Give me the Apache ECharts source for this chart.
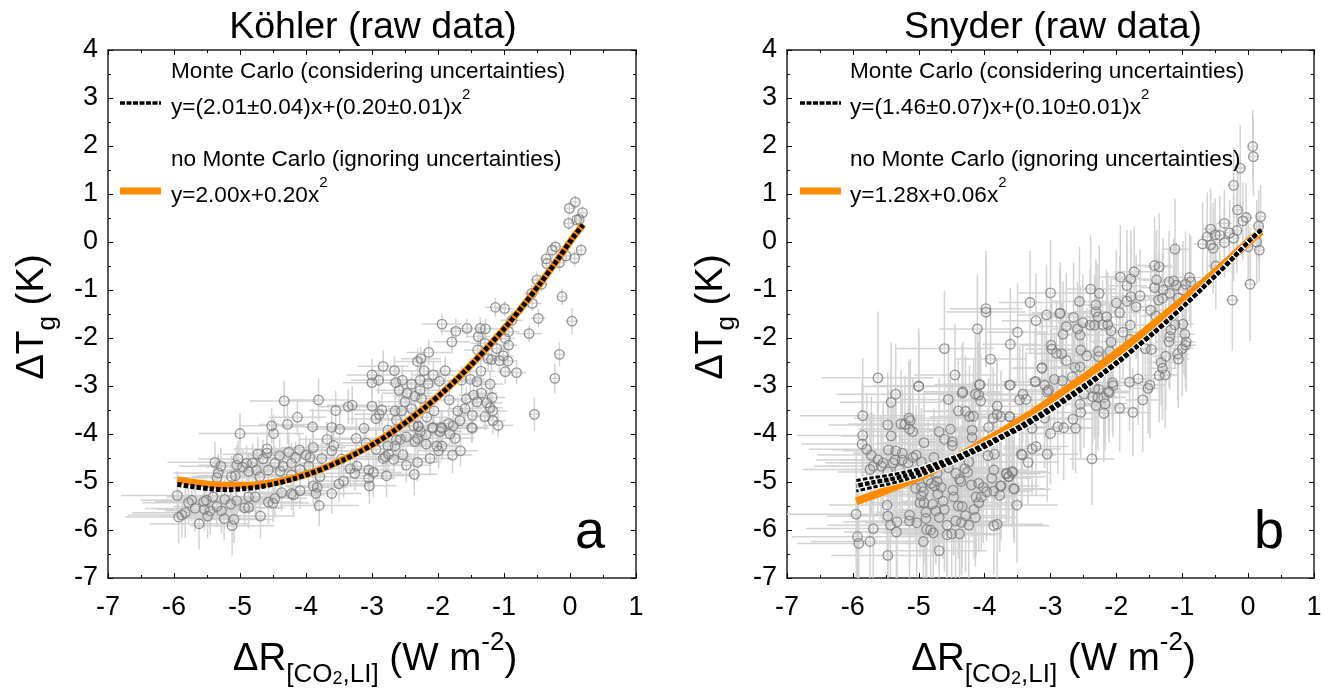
<!DOCTYPE html>
<html>
<head>
<meta charset="utf-8">
<title>Köhler and Snyder raw data</title>
<script src="https://cdn.jsdelivr.net/npm/echarts@6/dist/echarts.min.js"></script>
<style>
  html, body { margin: 0; padding: 0; background: #fff; }
  #main { width: 1335px; height: 688px; }
</style>
</head>
<body>
<div id="main"></div>
<script>
// x, y, x error, y error
const koehlerPoints = [
  [0.08,0.83,0.05,0.14],[-0.01,0.70,0.06,0.15],[0.19,0.61,0.05,0.13],[0.14,0.47,0.06,0.16],[0.10,0.46,0.05,0.12],[-0.02,0.39,0.07,0.14],
  [0.17,-0.17,0.06,0.15],[0.07,-0.34,0.07,0.17],[-0.22,-0.10,0.08,0.13],[-0.27,-0.17,0.07,0.16],[-0.36,-0.35,0.09,0.15],[-0.35,-0.45,0.08,0.14],
  [-0.16,-0.43,0.07,0.18],[-0.06,-0.29,0.08,0.15],[-0.50,-0.79,0.10,0.17],[-0.43,-0.88,0.09,0.16],[-0.58,-1.07,0.12,0.18],[-0.57,-1.28,0.14,0.16],
  [-0.12,-1.14,0.06,0.17],[-1.13,-1.36,0.16,0.20],[-0.99,-1.39,0.14,0.16],[-0.48,-1.59,0.11,0.20],[0.03,-1.65,0.10,0.27],[-0.88,-1.63,0.17,0.19],
  [-0.62,-1.91,0.20,0.18],[-1.94,-1.71,0.30,0.22],[-1.73,-1.86,0.24,0.26],[-1.56,-1.80,0.26,0.20],[-1.36,-1.80,0.22,0.24],[-1.28,-1.81,0.20,0.21],
  [-1.79,-2.08,0.28,0.25],[-1.39,-1.97,0.18,0.22],[-1.29,-2.11,0.21,0.26],[-0.93,-1.87,0.17,0.20],[-0.98,-2.01,0.15,0.24],[-0.93,-2.15,0.13,0.22],
  [-1.11,-2.22,0.18,0.21],[-1.40,-2.25,0.20,0.25],[-1.01,-2.37,0.16,0.23],[-0.16,-2.34,0.07,0.25],[-2.14,-2.30,0.34,0.27],[-2.26,-2.43,0.30,0.24],
  [-2.31,-2.49,0.36,0.28],[-2.83,-2.59,0.38,0.33],[-2.66,-2.68,0.33,0.30],[-1.24,-2.43,0.18,0.25],[-1.19,-2.45,0.20,0.22],[-1.07,-2.47,0.16,0.27],
  [-0.94,-2.48,0.15,0.24],[-0.98,-2.70,0.13,0.26],[-0.81,-2.72,0.14,0.23],[-1.35,-2.69,0.22,0.27],[-2.21,-2.68,0.31,0.26],[-1.89,-2.68,0.29,0.30],
  [-2.07,-2.77,0.32,0.27],[-0.23,-2.84,0.06,0.31],[-1.51,-2.86,0.22,0.25],[-1.64,-2.88,0.27,0.29],[-1.41,-2.91,0.23,0.26],[-1.21,-2.96,0.20,0.28],
  [-1.98,-2.90,0.30,0.26],[-2.15,-2.95,0.28,0.32],[-2.27,-2.88,0.33,0.28],[-2.54,-2.88,0.40,0.30],[-2.40,-2.96,0.35,0.27],[-2.64,-2.93,0.37,0.33],
  [-2.90,-2.88,0.42,0.29],[-3.00,-2.77,0.38,0.34],[-3.00,-2.93,0.44,0.31],[-2.59,-3.09,0.36,0.30],[-2.27,-3.09,0.31,0.35],[-2.47,-3.15,0.38,0.28],
  [-2.35,-3.21,0.33,0.31],[-2.25,-3.26,0.30,0.29],[-1.83,-3.29,0.27,0.33],[-1.57,-3.27,0.25,0.27],[-1.46,-3.19,0.22,0.30],[-1.34,-3.15,0.24,0.26],
  [-1.41,-3.33,0.21,0.29],[-1.26,-3.35,0.23,0.27],[-1.18,-3.24,0.20,0.25],[-1.21,-3.45,0.19,0.28],[-1.17,-3.52,0.22,0.26],[-1.59,-3.47,0.26,0.31],
  [-1.70,-3.52,0.28,0.27],[-1.48,-3.61,0.24,0.30],[-1.29,-3.64,0.21,0.28],[-1.67,-3.72,0.27,0.26],[-1.17,-3.72,0.20,0.29],[-1.09,-3.82,0.23,0.25],
  [-0.54,-3.59,0.08,0.35],[-1.84,-3.78,0.29,0.31],[-1.77,-3.83,0.26,0.28],[-1.49,-3.86,0.25,0.32],[-2.40,-3.47,0.36,0.30],[-2.50,-3.33,0.38,0.33],
  [-2.65,-3.52,0.35,0.29],[-2.55,-3.52,0.40,0.32],[-2.85,-3.50,0.43,0.34],[-2.89,-3.59,0.38,0.30],[-2.94,-3.68,0.41,0.36],[-3.00,-3.42,0.45,0.31],
  [-2.63,-3.71,0.37,0.33],[-2.17,-3.65,0.33,0.29],[-2.06,-3.52,0.31,0.34],[-2.37,-3.83,0.34,0.30],[-2.30,-3.83,0.39,0.33],[-1.95,-3.86,0.30,0.31],
  [-2.08,-3.86,0.32,0.28],
  [-4.33,-3.31,0.52,0.42],[-3.81,-3.29,0.47,0.45],[-4.13,-3.65,0.44,0.38],[-3.55,-3.51,0.40,0.41],[-3.36,-3.43,0.46,0.36],[-3.30,-3.40,0.38,0.40],
  [-4.52,-3.83,0.50,0.37],[-4.28,-3.80,0.43,0.41],[-3.90,-3.85,0.48,0.38],[-3.61,-3.86,0.42,0.44],[-3.49,-3.90,0.45,0.35],[-3.12,-3.88,0.41,0.38],
  [-5.00,-3.99,0.63,0.42],[-4.49,-3.99,0.46,0.39],[-3.68,-4.11,0.43,0.36],[-3.24,-4.09,0.47,0.40],[-3.58,-4.24,0.40,0.34],[-3.89,-4.28,0.49,0.37],
  [-4.59,-4.31,0.51,0.40],[-4.10,-4.33,0.44,0.35],[-3.61,-4.35,0.46,0.38],[-4.26,-4.38,0.42,0.42],[-4.73,-4.42,0.53,0.36],[-4.59,-4.40,0.47,0.39],
  [-4.40,-4.45,0.49,0.37],[-4.00,-4.44,0.45,0.41],[-3.94,-4.49,0.41,0.36],[-4.16,-4.49,0.47,0.34],[-3.76,-4.51,0.44,0.39],[-3.46,-4.52,0.39,0.35],
  [-4.65,-4.52,0.55,0.40],[-5.03,-4.52,0.60,0.38],[-5.38,-4.59,0.72,0.43],[-5.29,-4.67,0.64,0.39],[-5.05,-4.65,0.58,0.41],[-4.90,-4.61,0.52,0.37],
  [-4.81,-4.60,0.57,0.40],[-4.47,-4.61,0.48,0.36],[-4.35,-4.67,0.50,0.38],[-4.22,-4.61,0.46,0.43],[-3.96,-4.67,0.44,0.35],[-4.09,-4.74,0.49,0.39],
  [-4.96,-4.69,0.56,0.37],[-4.75,-4.75,0.53,0.42],[-4.57,-4.75,0.47,0.36],[-5.33,-4.81,0.68,0.40],[-5.13,-4.89,0.61,0.44],[-5.35,-4.91,0.66,0.38],
  [-5.07,-4.87,0.59,0.41],[-4.87,-4.78,0.54,0.36],[-4.70,-4.89,0.52,0.39],[-4.39,-4.78,0.48,0.42],[-4.22,-4.85,0.45,0.37],[-3.79,-4.89,0.50,0.35],
  [-3.33,-4.72,0.42,0.38],[-3.23,-4.67,0.38,0.34],[-3.26,-4.82,0.44,0.36],[-3.05,-4.75,0.40,0.39],[-3.43,-4.98,0.43,0.35],[-3.50,-5.04,0.47,0.37],
  [-3.05,-4.92,0.39,0.34],[-3.04,-5.08,0.41,0.38],[-3.83,-5.11,0.46,0.36],[-3.89,-5.08,0.43,0.40],[-3.85,-5.24,0.48,0.37],[-3.61,-5.24,0.45,0.42],
  [-4.09,-5.18,0.44,0.38],[-4.22,-5.24,0.49,0.35],[-4.19,-5.27,0.47,0.43],[-4.37,-5.22,0.51,0.39],[-4.47,-5.34,0.48,0.41],[-4.57,-5.42,0.53,0.46],
  [-4.50,-5.44,0.55,0.40],[-3.80,-5.49,0.60,0.43],[-4.77,-5.31,0.52,0.44],[-4.87,-5.31,0.56,0.38],[-5.05,-5.39,0.62,0.42],[-5.14,-5.46,0.59,0.47],
  [-5.23,-5.36,0.65,0.41],[-4.93,-5.54,0.58,0.39],[-4.87,-5.53,0.54,0.44],[-5.41,-5.31,0.70,0.43],[-5.55,-5.41,0.74,0.46],[-5.51,-5.38,0.68,0.40],
  [-5.68,-5.55,0.76,0.48],[-5.78,-5.43,0.70,0.42],[-5.73,-5.38,0.78,0.45],[-5.95,-5.28,0.85,0.50],[-5.35,-5.51,0.66,0.43],[-5.28,-5.60,0.62,0.47],
  [-5.54,-5.57,0.72,0.44],[-5.45,-5.60,0.69,0.50],[-5.49,-5.71,0.73,0.46],[-5.83,-5.64,0.80,0.52],[-5.88,-5.69,0.82,0.47],[-5.93,-5.73,0.81,0.55],
  [-5.24,-5.76,0.63,0.45],[-5.09,-5.78,0.60,0.49],[-4.69,-5.71,0.52,0.47],[-5.62,-5.87,0.75,0.53],[-5.12,-5.91,0.64,0.62],
  [-3.09,-4.19,0.42,0.36],[-2.94,-4.32,0.38,0.41],[-2.76,-3.92,0.40,0.33],[-2.76,-4.25,0.36,0.38],[-2.65,-4.25,0.39,0.34],[-2.63,-4.12,0.41,0.37],
  [-2.57,-4.11,0.35,0.33],[-2.48,-4.06,0.38,0.39],[-2.35,-4.16,0.34,0.36],[-2.30,-3.85,0.37,0.32],[-2.27,-3.95,0.33,0.38],[-2.18,-4.02,0.36,0.34],
  [-2.31,-4.09,0.32,0.31],[-2.18,-4.21,0.35,0.37],[-2.08,-3.88,0.30,0.33],[-1.97,-3.95,0.33,0.30],[-1.94,-3.88,0.28,0.35],[-1.82,-4.00,0.31,0.32],
  [-1.74,-4.09,0.29,0.36],[-2.02,-4.25,0.34,0.34],[-1.94,-4.25,0.30,0.30],[-1.99,-4.35,0.32,0.37],[-1.66,-4.35,0.27,0.33],[-1.78,-4.44,0.30,0.38],
  [-2.12,-4.51,0.33,0.34],[-2.31,-4.59,0.36,0.40],[-2.48,-4.65,0.38,0.36],[-2.36,-4.84,0.35,0.43],[-2.78,-4.87,0.42,0.45],[-2.53,-4.43,0.37,0.35],
  [-2.67,-4.53,0.40,0.39],[-2.75,-4.42,0.36,0.34],[-2.80,-4.47,0.41,0.37],[-2.83,-4.51,0.38,0.41],[-2.98,-4.80,0.43,0.52],[-1.48,-3.88,0.25,0.30]
];
const snyderPoints = [
  [-5.00,-3.01,0.85,1.10],[-5.35,-3.17,0.90,1.05],[-5.42,-3.34,0.78,1.25],[-5.85,-3.62,0.95,1.20],[-5.85,-4.03,1.00,1.05],[-5.86,-4.21,0.92,1.30],
  [-5.79,-4.32,0.88,1.15],[-5.72,-4.44,0.82,1.22],[-5.47,-3.81,0.90,1.08],[-5.42,-4.04,0.74,1.35],[-5.27,-3.79,0.80,1.12],[-5.21,-3.80,0.76,1.02],
  [-5.15,-3.67,0.83,1.18],[-5.13,-3.72,0.70,1.28],[-5.14,-3.90,0.78,1.06],[-5.09,-3.95,0.72,1.14],[-4.92,-4.18,0.68,0.98],[-5.46,-4.33,0.86,1.24],
  [-5.35,-4.35,0.80,1.10],[-5.25,-4.40,0.74,1.32],[-5.04,-4.44,0.70,1.04],[-5.09,-4.49,0.76,1.16],[-5.36,-4.54,0.84,1.08],[-5.39,-4.60,0.78,1.26],
  [-5.25,-4.54,0.72,1.00],[-5.16,-4.60,0.80,1.20],[-4.96,-4.58,0.66,1.12],[-4.77,-4.49,0.64,1.02],[-5.62,-4.54,0.94,1.16],[-5.54,-4.60,0.88,1.28],
  [-5.57,-4.67,0.82,1.06],[-5.74,-4.74,1.02,1.18],[-5.69,-4.67,0.90,1.10],[-5.47,-4.79,0.76,1.30],[-5.29,-4.74,0.84,1.04],[-4.69,-3.95,0.70,1.14],
  [-4.52,-3.90,0.62,1.06],[-4.61,-4.11,0.66,0.96],[-4.49,-4.16,0.58,1.22],[-4.49,-4.24,0.64,1.10],[-4.55,-3.28,0.72,1.16],[-4.34,-3.15,0.60,1.02],
  [-4.14,-3.17,0.66,1.24],[-4.09,-3.19,0.58,1.10],[-4.06,-3.31,0.62,0.98],[-4.08,-2.97,0.68,1.12],[-4.40,-3.52,0.56,1.04],[-4.29,-3.53,0.64,1.18],
  [-4.23,-3.64,0.60,1.08],[-4.17,-3.63,0.54,1.20],[-3.81,-3.42,0.58,1.00],[-3.81,-3.59,0.52,1.14],[-3.87,-3.67,0.62,1.06],[-3.75,-3.64,0.56,0.96],
  [-3.62,-3.64,0.50,1.10],[-3.94,-3.86,0.60,1.02],[-4.19,-3.92,0.66,0.94],[-4.19,-4.07,0.54,1.16],[-3.61,-2.98,0.56,1.08],[-3.42,-3.17,0.48,1.00],
  [-3.47,-3.29,0.52,1.12],[-3.37,-3.28,0.46,0.98],[-3.23,-2.91,0.50,1.18],[-3.05,-3.12,0.44,1.04],[-3.28,-3.88,0.48,0.92],[-3.00,-3.99,0.46,1.06],
  [-3.22,-4.26,0.50,1.02],[-3.28,-4.31,0.44,0.96],[-3.43,-4.44,0.52,1.08],[-3.34,-4.59,0.46,0.90],[-3.05,-4.42,0.48,1.00],[-3.85,-4.42,0.56,1.10],
  [-3.95,-4.45,0.62,0.98],[-4.24,-4.58,0.60,1.14],[-4.30,-4.72,0.66,1.04],[-4.26,-4.80,0.58,1.20],[-3.86,-4.75,0.54,1.06],[-3.89,-4.92,0.60,0.96],
  [-4.55,-4.70,0.70,1.12],[-4.44,-4.82,0.64,1.28],[-4.38,-4.94,0.62,1.02],[-4.36,-4.99,0.68,1.16],[-4.72,-4.82,0.66,1.08],[-4.86,-4.96,0.72,1.22],
  [-4.81,-5.03,0.70,1.04],[-4.76,-5.08,0.64,1.30],[-4.72,-4.99,0.74,1.10],[-4.66,-5.11,0.68,1.18],[-4.71,-5.25,0.62,1.06],[-4.96,-5.11,0.76,1.26],
  [-5.05,-5.13,0.80,1.12],[-4.93,-5.20,0.70,1.34],[-4.96,-5.29,0.74,1.08],[-4.63,-5.40,0.64,1.20],[-4.79,-5.46,0.72,1.04],[-4.92,-5.43,0.68,1.28],
  [-4.98,-5.43,0.78,1.14],[-4.48,-5.17,0.60,1.06],[-4.47,-5.31,0.66,1.22],[-4.20,-5.06,0.58,1.10],[-4.09,-5.03,0.62,0.98],[-4.02,-5.11,0.56,1.16],
  [-3.97,-5.20,0.64,1.04],[-4.13,-5.31,0.60,1.24],[-4.05,-5.31,0.54,1.10],[-4.09,-5.43,0.62,1.02],[-3.77,-5.28,0.70,1.18],[-3.76,-5.08,0.58,1.08],
  [-3.86,-5.19,0.60,0.96],[-3.55,-5.15,0.56,1.12],[-3.67,-4.83,0.52,1.02],[-3.58,-4.80,0.58,1.14],[-3.63,-4.89,0.50,0.94],[-3.51,-5.48,0.62,1.20],
  [-4.40,-5.50,0.64,1.10],[-4.34,-5.51,0.58,1.26],[-4.16,-5.57,0.66,1.04],[-4.61,-5.57,0.70,1.30],[-4.74,-5.60,0.64,1.12],[-4.89,-5.63,0.76,1.22],
  [-5.14,-5.69,0.82,1.06],[-5.14,-5.81,0.74,1.32],[-5.03,-5.85,0.78,1.14],[-4.89,-5.76,0.72,1.24],[-4.69,-5.74,0.66,1.08],[-4.44,-5.81,0.62,1.28],
  [-4.35,-5.84,0.68,1.10],[-4.29,-5.70,0.60,1.18],[-4.14,-5.74,0.64,1.02],[-4.24,-5.90,0.86,1.26],[-5.48,-5.48,0.88,1.16],[-5.95,-5.67,1.05,1.30],
  [-5.47,-5.71,0.92,1.12],[-5.33,-5.83,0.82,1.22],[-5.43,-5.90,0.96,1.08],[-5.69,-5.97,1.02,1.26],[-5.34,-6.04,0.80,1.14],[-4.88,-5.99,0.74,1.34],
  [-4.82,-6.00,0.70,1.10],[-4.78,-6.06,0.76,1.24],[-4.57,-5.90,0.66,1.06],[-4.57,-6.10,0.72,1.20],[-4.50,-6.08,0.68,1.30],[-4.38,-6.08,0.64,1.12],
  [-3.86,-5.91,0.84,1.02],[-3.81,-5.88,0.70,1.16],[-5.93,-6.14,1.00,1.20],[-5.91,-6.28,0.94,1.34],[-5.74,-6.24,0.90,1.10],[-4.93,-6.24,0.78,1.28],
  [-4.69,-6.43,0.72,1.16],[-5.47,-6.53,0.86,1.30],
  [-3.98,-1.39,0.55,1.20],[-3.98,-1.46,0.60,1.15],[-3.31,-1.26,0.48,1.07],[-3.00,-1.06,0.50,1.10],[-3.06,-1.52,0.44,1.05],[-3.22,-1.64,0.52,0.98],
  [-4.11,-1.81,0.58,1.12],[-3.50,-1.88,0.46,1.02],[-3.61,-2.13,0.42,1.18],[-4.61,-2.22,0.75,1.20],[-2.99,-2.15,0.46,0.96],[-2.98,-2.23,0.40,1.04],
  [-2.91,-2.32,0.44,1.10],[-3.91,-2.44,0.54,1.00],[-3.13,-2.62,0.42,1.14],[-4.45,-2.77,0.62,1.06],[-5.62,-2.83,0.85,1.38],[-2.94,-2.86,0.40,0.98],
  [-3.23,-2.91,0.46,1.08],[-4.07,-2.97,0.56,1.16],[-3.62,-2.98,0.50,1.02],[-5.00,-3.00,0.72,1.20],[-3.09,-2.98,0.44,1.12],[-2.86,-1.49,0.42,0.94],
  [-4.33,-3.12,0.60,1.04],
  [-2.36,-3.22,0.36,1.00],[-2.28,-3.24,0.32,1.10],[-2.19,-3.24,0.34,0.94],[-2.11,-3.14,0.30,1.04],[-2.17,-3.37,0.33,0.98],[-2.31,-3.41,0.35,1.12],
  [-1.95,-3.46,0.31,0.90],[-1.60,-3.29,0.26,1.08],[-1.75,-3.55,0.28,0.92],[-2.19,-3.57,0.32,1.02],[-2.54,-3.55,0.38,0.96],[-2.66,-3.69,0.40,1.06],
  [-2.62,-3.88,0.36,0.94],[-2.80,-3.87,0.42,1.10],[-2.89,-3.85,0.38,0.98],[-3.09,-3.67,0.44,1.04],[-3.62,-3.64,0.52,0.92],[-3.44,-4.42,0.50,1.00],
  [-2.37,-4.52,0.34,0.96],[-3.58,-4.78,0.54,1.10],[-3.67,-4.82,0.50,0.98],[-3.64,-4.89,0.56,1.06],[-3.56,-5.14,0.48,1.02],[-3.75,-5.08,0.52,1.14],
  [0.07,1.99,0.06,0.76],[0.08,1.78,0.08,0.82],[-0.12,1.54,0.09,0.90],[-0.22,1.18,0.07,0.78],[-0.16,0.67,0.08,0.86],[-0.03,0.51,0.10,0.72],
  [-0.08,0.44,0.07,0.80],[0.19,0.53,0.06,0.66],[0.16,0.33,0.08,0.74],[-0.17,0.24,0.09,0.88],[-0.36,0.39,0.11,0.70],[-0.57,0.27,0.12,0.84],
  [-0.62,0.11,0.10,0.92],[-0.50,0.15,0.13,0.76],[-0.43,0.14,0.09,0.82],[-0.28,0.19,0.08,0.68],[-0.22,0.08,0.10,0.90],[-0.36,-0.01,0.11,0.74],
  [-0.69,-0.04,0.14,0.86],[-0.57,-0.06,0.12,0.78],[-0.53,-0.13,0.10,0.94],[-1.11,-0.15,0.20,1.05],[0.00,-0.10,0.07,0.72],[0.13,0.00,0.06,0.88],
  [0.17,-0.17,0.08,0.66],[0.03,-0.88,0.09,1.18],[-0.24,-1.21,0.10,1.05],[-0.49,-0.50,0.13,0.90],[-1.42,-0.49,0.26,1.00],[-1.35,-0.52,0.22,1.12],
  [-1.73,-0.62,0.30,0.94],[-1.94,-0.73,0.32,1.08],[-1.78,-0.77,0.28,1.02],[-1.84,-0.91,0.30,1.16],[-0.89,-0.74,0.16,0.92],[-1.39,-0.79,0.24,1.04],
  [-1.13,-0.81,0.20,0.88],[-1.20,-0.83,0.18,1.06],[-0.87,-0.83,0.14,0.96],[-0.95,-0.88,0.16,1.10],[-1.42,-0.95,0.22,0.98],[-1.29,-1.00,0.20,1.08],
  [-1.19,-1.07,0.18,0.94],[-0.99,-1.00,0.15,1.02],[-1.09,-0.90,0.17,0.90],[-2.39,-0.98,0.38,1.12],[-2.26,-1.07,0.34,1.00],[-2.56,-1.24,0.40,1.14],
  [-1.64,-1.12,0.28,0.96],[-1.78,-1.14,0.30,1.06],[-1.84,-1.23,0.26,1.14],[-1.36,-1.21,0.24,0.98],[-1.30,-1.17,0.22,0.92],[-1.06,-1.17,0.16,1.04],
  [-2.00,-1.27,0.32,1.10],[-2.31,-1.31,0.36,0.96],[-1.70,-1.35,0.28,1.08],[-1.48,-1.42,0.24,0.94],[-2.31,-1.45,0.34,1.04],[-1.95,-1.47,0.30,1.18],
  [-2.85,-1.48,0.44,1.06],[-2.65,-1.57,0.40,1.14],[-2.15,-1.56,0.32,0.98],[-2.28,-1.56,0.36,1.10],[-2.51,-1.68,0.38,1.00],[-2.40,-1.73,0.42,1.16],
  [-2.33,-1.73,0.34,1.04],[-2.21,-1.72,0.32,0.92],[-2.13,-1.72,0.30,1.08],[-2.76,-1.76,0.42,1.12],[-2.59,-1.81,0.38,0.98],[-2.08,-1.85,0.34,1.14],
  [-1.79,-1.73,0.28,1.02],[-1.90,-1.88,0.26,0.96],[-2.81,-1.92,0.44,1.10],[-2.55,-1.94,0.36,1.02],[-1.40,-1.54,0.22,1.00],[-1.11,-1.72,0.18,0.92],
  [-0.99,-1.71,0.16,1.06],[-1.17,-1.83,0.20,0.98],[-0.96,-1.92,0.15,0.90],[-1.19,-1.97,0.18,1.10],[-1.20,-2.08,0.21,0.94],[-0.94,-2.08,0.14,1.04],
  [-0.95,-2.15,0.16,0.88],[-1.00,-2.22,0.17,1.00],[-2.83,-2.33,0.42,1.06],[-2.76,-2.47,0.40,0.96],[-2.54,-2.25,0.38,1.12],[-2.45,-2.37,0.36,1.00],
  [-2.27,-2.28,0.34,1.08],[-2.27,-2.39,0.32,0.94],[-2.08,-2.08,0.30,1.10],[-2.10,-2.28,0.33,0.98],[-1.56,-2.22,0.26,1.04],[-1.47,-2.24,0.24,0.92],
  [-1.79,-2.03,0.28,1.06],[-1.07,-2.33,0.17,0.96],[-1.25,-2.38,0.20,1.12],[-1.06,-2.44,0.16,1.02],[-1.32,-2.51,0.22,0.90],[-1.30,-2.63,0.21,1.08],
  [-1.35,-2.78,0.23,0.98],[-1.26,-2.77,0.20,1.10],[-2.63,-2.61,0.38,1.02],[-2.55,-2.60,0.40,0.94],[-3.13,-2.63,0.46,1.06],[-2.67,-2.81,0.39,1.12],
  [-2.82,-2.89,0.42,0.96],[-3.03,-3.08,0.44,1.04],[-2.06,-2.93,0.30,1.00],[-2.05,-2.99,0.32,1.08],[-2.12,-3.11,0.34,0.92],[-1.80,-2.92,0.28,1.02],
  [-1.67,-2.85,0.26,0.96],[-1.49,-2.98,0.24,1.10],[-1.52,-3.05,0.22,0.94],[-2.33,-3.05,0.36,1.06],[-2.27,-3.07,0.33,0.98],[-2.49,-3.17,0.38,1.12],
  [-2.55,-3.38,0.40,1.00]
];

// curve samples, same x for all curves
const curveX = [-5.95,-5.7,-5.45,-5.2,-4.95,-4.7,-4.45,-4.2,-3.95,-3.7,-3.45,-3.2,-2.95,-2.7,-2.45,-2.2,-1.95,-1.7,-1.45,-1.2,-0.95,-0.7,-0.45,-0.2,0.05,0.2];
const koehlerMonteCarlo = [-5.05,-5.10,-5.14,-5.16,-5.14,-5.10,-5.03,-4.94,-4.83,-4.70,-4.55,-4.38,-4.19,-3.97,-3.72,-3.45,-3.16,-2.84,-2.49,-2.12,-1.73,-1.31,-0.86,-0.39,0.10,0.36];
const koehlerNoMonteCarlo = [-4.95,-5.01,-5.05,-5.07,-5.07,-5.05,-5.00,-4.92,-4.82,-4.69,-4.54,-4.37,-4.18,-3.96,-3.72,-3.45,-3.16,-2.84,-2.49,-2.12,-1.73,-1.31,-0.86,-0.39,0.10,0.36];
const snyderMonteCarlo = [-5.08,-5.01,-4.95,-4.87,-4.78,-4.65,-4.52,-4.37,-4.21,-4.03,-3.85,-3.65,-3.44,-3.21,-2.98,-2.73,-2.47,-2.19,-1.91,-1.61,-1.30,-0.97,-0.64,-0.29,0.07,0.25];
const snyderMonteCarloHigh = [-4.97,-4.91,-4.86,-4.79,-4.71,-4.59,-4.47,-4.33,-4.17,-4.00,-3.81,-3.61,-3.40,-3.17,-2.94,-2.70,-2.44,-2.17,-1.89,-1.59,-1.29,-0.96,-0.63,-0.28,0.07,0.25];
const snyderMonteCarloLow = [-5.19,-5.11,-5.04,-4.95,-4.85,-4.71,-4.57,-4.41,-4.25,-4.06,-3.89,-3.69,-3.48,-3.25,-3.02,-2.76,-2.50,-2.21,-1.93,-1.63,-1.31,-0.98,-0.65,-0.30,0.07,0.25];
const snyderNoMonteCarlo = [-5.40,-5.28,-5.15,-5.01,-4.87,-4.69,-4.51,-4.32,-4.12,-3.92,-3.71,-3.49,-3.26,-3.02,-2.78,-2.53,-2.27,-2.01,-1.73,-1.45,-1.17,-0.87,-0.57,-0.26,0.06,0.22];

const FONT = '"Liberation Sans", Arial, sans-serif';
const ORANGE = '#ff8c00';
const myChart = echarts.init(document.getElementById('main'), null, { renderer: 'canvas' });

function withX (ys) {
    return ys.map((y, i) => [curveX[i], y]);
}

function renderErrorBars (params, api) {
    const x = api.value(0), y = api.value(1), xe = api.value(2), ye = api.value(3);
    const h0 = api.coord([x - xe, y]), h1 = api.coord([x + xe, y]);
    const v0 = api.coord([x, y - ye]), v1 = api.coord([x, y + ye]);
    const style = { stroke: '#d2d2d2', lineWidth: 1.5, fill: null };
    return {
        type: 'group',
        children: [
            { type: 'line', shape: { x1: h0[0], y1: h0[1], x2: h1[0], y2: h1[1] }, style },
            { type: 'line', shape: { x1: v0[0], y1: v0[1], x2: v1[0], y2: v1[1] }, style }
        ]
    };
}

const labelRich = {
    big: { fontSize: 38.5, fontFamily: FONT, color: '#000', lineHeight: 58, verticalAlign: 'middle' },
    sub: { fontSize: 26, fontFamily: FONT, color: '#000', lineHeight: 26, verticalAlign: 'bottom' },
    subsub: { fontSize: 18, fontFamily: FONT, color: '#000', lineHeight: 18, verticalAlign: 'bottom' },
    sup: { fontSize: 26, fontFamily: FONT, color: '#000', lineHeight: 26, verticalAlign: 'top' }
};

function panelAxes (grid) {
    const tick = { show: true, inside: true, length: 5, lineStyle: { color: '#000', width: 1 } };
    const minor = { show: true, splitNumber: 2, length: 3, lineStyle: { color: '#000', width: 1 } };
    const line = { show: true, onZero: false, lineStyle: { color: '#222', width: 1.5 } };
    const base = { type: 'value', gridIndex: grid, min: -7, interval: 1, axisLine: line, axisTick: tick, minorTick: minor, splitLine: { show: false }, minorSplitLine: { show: false } };
    const labels = { show: true, color: '#000', fontSize: 27, fontFamily: FONT, margin: 10, showMinLabel: true, showMaxLabel: true };
    return {
        x: [
            Object.assign({}, base, { max: 1, position: 'bottom', axisLabel: Object.assign({}, labels, { margin: 16 }),
                name: '{big|ΔR}{sub|[CO}{subsub|2}{sub|,LI]}{big| (W m}{sup|-2}{big|)}',
                nameLocation: 'middle', nameGap: 52,
                nameTextStyle: { rich: labelRich, padding: [0, 0, 0, 6] } }),
            Object.assign({}, base, { max: 1, position: 'top', axisLabel: { show: false } })
        ],
        y: [
            Object.assign({}, base, { max: 4, position: 'left', axisLabel: labels,
                name: '{big|ΔT}{sub|g}{big| (K)}',
                nameLocation: 'middle', nameGap: 47,
                nameTextStyle: { rich: labelRich, padding: [0, 6, 0, 0] } }),
            Object.assign({}, base, { max: 4, position: 'right', axisLabel: { show: false } })
        ]
    };
}

const legendRich = {
    t: { fontSize: 22.6, fontFamily: FONT, color: '#000', lineHeight: 32, verticalAlign: 'bottom' },
    s: { fontSize: 15, fontFamily: FONT, color: '#000', lineHeight: 15, verticalAlign: 'top' }
};

function legendText (x, y, text) {
    return { type: 'text', x: x, y: y, style: { text: text, rich: legendRich, fontFamily: FONT, fontSize: 22, verticalAlign: 'middle' }, z: 50 };
}

function legendBlock (sampleX, textX, mc, plain) {
    return [
        legendText(textX, 67, '{t|Monte Carlo (considering uncertainties)}'),
        legendText(textX, 103, '{t|' + mc + '}{s|2}'),
        legendText(textX, 155, '{t|no Monte Carlo (ignoring uncertainties)}'),
        legendText(textX, 191, '{t|' + plain + '}{s|2}'),
        { type: 'line', shape: { x1: sampleX, y1: 103, x2: sampleX + 41, y2: 103 }, style: { stroke: '#000', lineWidth: 3.5, lineDash: [5, 1.5] }, z: 50 },
        { type: 'line', shape: { x1: sampleX, y1: 191, x2: sampleX + 41, y2: 191 }, style: { stroke: ORANGE, lineWidth: 7 }, z: 50 }
    ];
}

function errorSeries (points, axis) {
    return { type: 'custom', name: 'error bars', renderItem: renderErrorBars, data: points, xAxisIndex: axis, yAxisIndex: axis, clip: true, silent: true, z: 1, encode: { x: 0, y: 1 } };
}

function pointSeries (points, axis) {
    return { type: 'scatter', name: 'data', data: points.map(p => [p[0], p[1]]), xAxisIndex: axis, yAxisIndex: axis, symbol: 'circle', symbolSize: 9.5,
        itemStyle: { color: 'rgba(255,255,255,0)', borderColor: '#7c7c7c', borderWidth: 1.3 }, silent: true, z: 2, large: false };
}

function curveSeries (name, ys, axis, color, width, dash, z, reverse) {
    // the dashed bundle is drawn from its right end, where the curves meet, so the dashes stay in step there
    const data = reverse ? withX(ys).reverse() : withX(ys);
    return { type: 'line', name: name, data: data, xAxisIndex: axis, yAxisIndex: axis, showSymbol: false, smooth: 0.3, silent: true, z: z,
        lineStyle: { color: color, width: width, type: dash || 'solid', cap: 'butt' } };
}

const left = panelAxes(0);
const right = panelAxes(1);

const option = {
    animation: false,
    backgroundColor: '#fff',
    title: [
        { text: 'Köhler (raw data)', left: 368, top: 4, textAlign: 'center', textStyle: { fontFamily: FONT, fontSize: 37.5, fontWeight: 'normal', color: '#000' } },
        { text: 'Snyder (raw data)', left: 1048, top: 4, textAlign: 'center', textStyle: { fontFamily: FONT, fontSize: 37.5, fontWeight: 'normal', color: '#000' } }
    ],
    grid: [
        { left: 108, top: 50, width: 528, height: 528, outerBoundsMode: 'none' },
        { left: 787, top: 50, width: 527, height: 528, outerBoundsMode: 'none' }
    ],
    xAxis: left.x.concat(right.x),
    yAxis: left.y.concat(right.y),
    series: [
        errorSeries(koehlerPoints, 0),
        pointSeries(koehlerPoints, 0),
        curveSeries('no Monte Carlo', koehlerNoMonteCarlo, 0, ORANGE, 7, null, 3),
        curveSeries('Monte Carlo', koehlerMonteCarlo, 0, '#000', 5, [4.5, 2], 4),
        errorSeries(snyderPoints, 2),
        pointSeries(snyderPoints, 2),
        curveSeries('no Monte Carlo', snyderNoMonteCarlo, 2, ORANGE, 8, null, 3),
        curveSeries('Monte Carlo high', snyderMonteCarloHigh, 2, '#fff', 5, null, 4),
        curveSeries('Monte Carlo low', snyderMonteCarloLow, 2, '#fff', 5, null, 4),
        curveSeries('Monte Carlo high', snyderMonteCarloHigh, 2, '#000', 3, [4.5, 2], 5, true),
        curveSeries('Monte Carlo low', snyderMonteCarloLow, 2, '#000', 3, [4.5, 2], 5, true),
        curveSeries('Monte Carlo', snyderMonteCarlo, 2, '#000', 4.5, [4.5, 2], 6, true)
    ],
    graphic: legendBlock(120, 171, 'y=(2.01±0.04)x+(0.20±0.01)x', 'y=2.00x+0.20x').concat(
        legendBlock(800, 850, 'y=(1.46±0.07)x+(0.10±0.01)x', 'y=1.28x+0.06x'),
        [
            { type: 'text', x: 575, y: 506, style: { text: 'a', fontFamily: FONT, fontSize: 54, fill: '#000' }, z: 50 },
            { type: 'text', x: 1254, y: 506, style: { text: 'b', fontFamily: FONT, fontSize: 54, fill: '#000' }, z: 50 }
        ]
    )
};
myChart.setOption(option);
</script>
</body>
</html>
